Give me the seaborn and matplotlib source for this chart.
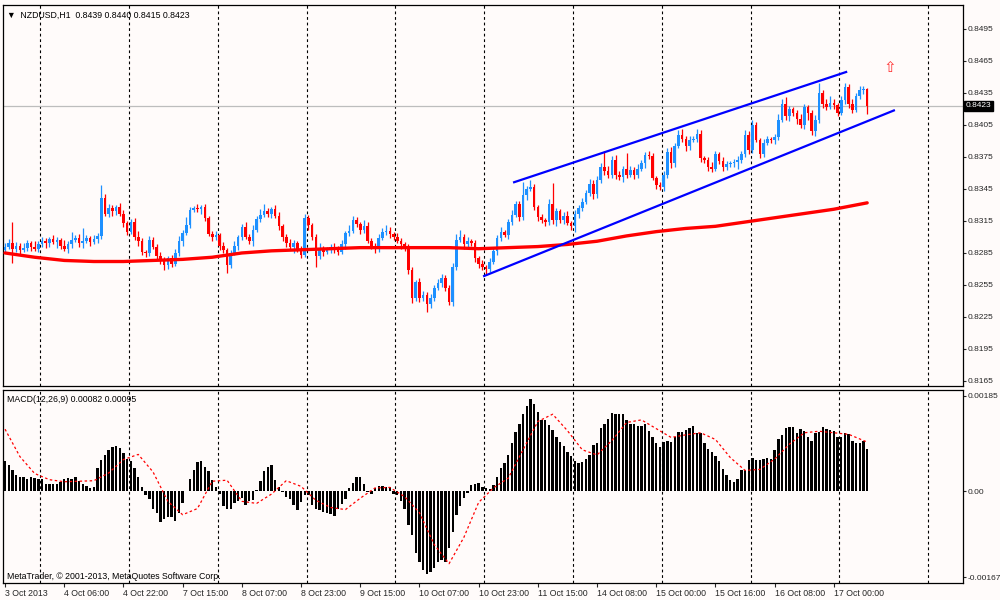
import numpy as np
import pandas as pd
import matplotlib
matplotlib.use("Agg")
import matplotlib.pyplot as plt
import matplotlib.transforms as mtransforms
import seaborn as sns

# ---------------- data (prices in pips = 1e-4) ----------------
first_open = 8288
close_pips = [
    8291, 8294, 8289, 8292, 8288, 8290, 8294, 8291, 8289, 8293, 8296, 8294, 8298, 8295, 8297, 8292,
    8289, 8293, 8297, 8299, 8294, 8296, 8299, 8295, 8298, 8301,
    8337, 8322, 8327, 8324, 8328, 8322, 8313, 8305,
    8314, 8300, 8296, 8286, 8285, 8297, 8291, 8282, 8278, 8274, 8280, 8275,
    8285, 8296, 8304, 8311, 8325, 8327, 8326, 8328, 8318, 8303, 8300, 8302, 8292, 8288,
    8274, 8285, 8292, 8300, 8309, 8300, 8296, 8307, 8317, 8321, 8324, 8322, 8326, 8320, 8310, 8300,
    8294, 8291, 8294, 8289, 8283,
    8318, 8311, 8300, 8282, 8290, 8286, 8288, 8291, 8289, 8286,
    8293, 8304, 8306, 8316, 8312, 8307, 8310, 8296, 8292, 8289,
    8299, 8305, 8306, 8303, 8300, 8296, 8293, 8290, 8269, 8243,
    8258, 8243, 8246, 8237, 8243, 8252, 8257, 8262, 8252, 8239,
    8272, 8297, 8300, 8293, 8296,
    8294, 8280, 8275, 8272, 8270, 8277, 8287, 8299, 8305, 8302,
    8314, 8321, 8331, 8319, 8339, 8345, 8347, 8328, 8319, 8316,
    8314, 8331, 8316, 8324, 8316, 8320, 8313, 8310, 8322, 8327,
    8333, 8341, 8350, 8340, 8353, 8366, 8362, 8358, 8372, 8358,
    8356, 8364, 8358, 8363, 8358, 8364, 8369, 8377, 8376, 8355,
    8349, 8347, 8358, 8380, 8369, 8385, 8396, 8392, 8385, 8391,
    8392, 8397, 8374, 8372, 8366, 8364, 8378, 8371,
    8366, 8368, 8369, 8370, 8372, 8378, 8396, 8382, 8405, 8391,
    8378, 8388, 8392, 8391, 8394, 8410, 8425, 8413, 8420, 8416,
    8411, 8405, 8422, 8416, 8399, 8410, 8435, 8425, 8422, 8426,
    8424, 8416, 8428, 8441, 8425, 8419, 8432, 8438, 8439, 8423,
]
upper_wick = [
    3, 4, 20, 3, 2, 4, 3, 2, 5, 3,
    4, 3, 2, 4, 3, 2, 5, 3, 8, 3,
    4, 12, 3, 2, 4, 3, 12, 3, 4, 3,
    2, 4, 3, 2, 3, 4, 6, 3, 2, 4,
    3, 2, 4, 3, 2, 3, 4, 5, 3, 8,
    3, 2, 4, 2, 3, 2, 3, 4, 2, 3,
    2, 3, 4, 2, 3, 5, 3, 4, 3, 5,
    7, 3, 2, 4, 3, 2, 3, 4, 3, 2,
    3, 4, 3, 2, 3, 4, 2, 3, 2, 3,
    3, 4, 2, 5, 4, 3, 2, 6, 4, 3,
    2, 4, 3, 5, 3, 2, 4, 3, 2, 3,
    3, 2, 4, 3, 2, 4, 3, 4, 3, 2,
    3, 4, 6, 7, 3, 4, 2, 3, 2, 3,
    2, 3, 4, 3, 4, 2, 3, 4, 3, 3,
    13, 3, 6, 3, 2, 3, 2, 5, 20, 3,
    2, 3, 4, 2, 3, 3, 4, 3, 4, 3,
    4, 3, 15, 5, 4, 5, 4, 3, 15, 4,
    3, 4, 3, 3, 4, 3, 2, 3, 4, 3,
    4, 3, 4, 5, 3, 4, 3, 4, 3, 2,
    3, 4, 3, 2, 4, 3, 2, 3, 4, 3,
    4, 3, 5, 3, 2, 4, 3, 2, 3, 5,
    4, 6, 3, 2, 3, 4, 3, 2, 3, 4,
    9, 3, 4, 6, 3, 2, 4, 3, 2, 4,
    3, 4, 3, 1,
]
lower_wick = [
    3, 2, 13, 3, 4, 2, 3, 4, 2, 3,
    2, 4, 3, 2, 5, 3, 2, 4, 3, 2,
    3, 4, 2, 3, 2, 4, 3, 2, 3, 4,
    3, 2, 4, 3, 2, 3, 4, 3, 4, 3,
    2, 4, 3, 5, 4, 3, 2, 3, 4, 2,
    3, 2, 3, 4, 3, 2, 4, 3, 4, 3,
    8, 3, 2, 4, 3, 2, 3, 4, 2, 3,
    2, 3, 4, 2, 3, 4, 3, 2, 6, 3,
    3, 2, 4, 3, 10, 3, 4, 2, 3, 4,
    3, 2, 4, 3, 2, 3, 4, 3, 2, 3,
    4, 3, 2, 3, 4, 3, 2, 4, 3, 4,
    5, 3, 4, 3, 7, 4, 3, 2, 4, 3,
    3, 4, 3, 2, 4, 3, 2, 3, 4, 3,
    5, 3, 2, 4, 3, 2, 4, 3, 2, 4,
    3, 4, 2, 3, 4, 3, 4, 3, 4, 6,
    3, 4, 2, 3, 5, 4, 3, 2, 3, 4,
    3, 2, 4, 3, 3, 4, 3, 4, 3, 2,
    4, 3, 2, 4, 3, 2, 4, 3, 4, 3,
    4, 3, 2, 3, 4, 3, 2, 3, 4, 3,
    4, 3, 2, 3, 4, 3, 2, 3, 6, 3,
    3, 4, 3, 2, 4, 3, 2, 3, 4, 3,
    2, 3, 4, 3, 5, 3, 4, 6, 3, 4,
    3, 4, 3, 2, 4, 3, 2, 3, 4, 3,
    2, 3, 4, 8,
]

# moving average (pips), read every 8 bars + last bar
ma_bars = list(range(0, 225, 8)) + [233]
ma_vals = [8285, 8281, 8278, 8277, 8277, 8278, 8279, 8281, 8285, 8287,
           8288, 8289, 8290, 8290, 8290, 8290, 8289, 8290, 8291, 8293,
           8296, 8301, 8305, 8308, 8310, 8314, 8318, 8322, 8326, 8332]

# MACD histogram (units of 1e-5)
macd_hist = [
    59, 50, 41, 32, 28, 28, 23, 27, 25, 23,
    23, 13, 13, 13, 13, 18, 23, 26, 23, 27,
    19, 13, 10, 6, 8, 44, 60, 70, 80, 86,
    87, 83, 73, 63, 59, 44, 28, 7, -8, -16,
    -34, -43, -61, -55, -51, -51, -58, -43, -24, 1,
    23, 41, 57, 58, 46, 38, 21, 8, -6, -30,
    -34, -34, -24, -19, -14, -27, -19, -17, 2, 19,
    38, 47, 50, 21, 7, -1, -11, -16, -27, -36,
    -21, -8, -8, -27, -34, -37, -40, -42, -45, -49,
    -34, -25, -16, 5, 16, 27, 27, 14, -1, -5,
    5, 10, 10, 7, 7, -5, -8, -19, -34, -66,
    -85, -121, -137, -153, -161, -157, -150, -137, -134, -137,
    -111, -79, -47, -30, -14, -3, 12, 13, 15, 8,
    5, 3, 12, 28,
    44, 54, 70, 94, 115, 130, 149, 165, 178, 169,
    154, 138, 137, 128, 118, 105, 96, 87, 76, 68,
    58, 55, 57, 62, 70, 89, 94, 122, 130, 139,
    151, 149, 149, 149, 138, 131, 130, 126, 127, 130,
    116, 104, 94, 86, 96, 98, 95, 105, 115, 115,
    118, 122, 126, 113, 113, 93, 81, 75, 68, 58,
    42, 31, 21, 18, 23, 41, 40, 60, 65, 60,
    61, 63, 65, 63, 80, 100, 109, 122, 125, 125,
    112, 120, 117, 104, 98, 113, 115, 124, 120, 118,
    117, 105, 105, 113, 111, 97, 94, 93, 97, 82,
]
# MACD signal line (units of 1e-5), read every 4 bars + last bar
signal_bars = list(range(0, 233, 4)) + [233]
signal_vals = [120, 67, 34, 22, 18, 19, 20, 35, 61, 71,
               37, -20, -46, -34, 19, 21, -20, -24, -6, 20,
               9, -18, -32, -36, -14, 6, 7, -11, -42, -104,
               -141, -90, -22, 6, 25, 80, 135, 149, 117, 80,
               70, 98, 133, 138, 121, 104, 109, 113, 100, 65,
               40, 42, 62, 91, 113, 116, 113, 110, 98, 95]

time_labels = ["3 Oct 2013", "4 Oct 06:00", "4 Oct 22:00", "7 Oct 15:00", "8 Oct 07:00",
               "8 Oct 23:00", "9 Oct 15:00", "10 Oct 07:00", "10 Oct 23:00", "11 Oct 15:00",
               "14 Oct 08:00", "15 Oct 00:00", "15 Oct 16:00", "16 Oct 08:00", "17 Oct 00:00"]
label_bars = list(range(0, 225, 16))
price_ticks = [0.8165, 0.8195, 0.8225, 0.8255, 0.8285, 0.8315, 0.8345,
               0.8375, 0.8405, 0.8435, 0.8465, 0.8495]
macd_ticks = [0.00185, 0.0, -0.00167]
macd_tick_labels = ["0.00185", "0.00", "-0.00167"]
last_price = 0.8423
channel_upper = [(137.3, 0.8351), (227.6, 0.8455)]
channel_lower = [(129.2, 0.8263), (240.5, 0.8419)]
arrow_pos = (239.2, 0.8459)

# ---------------- style ----------------
sns.set_style("white")
plt.rcParams["font.family"] = ["Liberation Sans", "DejaVu Sans"]
FS = 6.3
YFS = 6.0
bg = "#FFFBFA"
bull = "#1E90FF"
bear = "#FF0000"

n = len(close_pips)
idx = np.arange(n)
closes = np.array(close_pips) / 1e4
opens = np.array([first_open] + close_pips[:-1]) / 1e4
highs = np.maximum(opens, closes) + np.array(upper_wick[:n]) / 1e4
lows = np.minimum(opens, closes) - np.array(lower_wick[:n]) / 1e4
up = closes >= opens
colors = np.where(up, bull, bear)

fig = plt.figure(figsize=(10, 6), dpi=100, facecolor=bg)
ax1 = fig.add_axes([0.003, 0.3567, 0.960, 0.635])
ax2 = fig.add_axes([0.003, 0.0283, 0.960, 0.3217])
for ax in (ax1, ax2):
    ax.set_facecolor(bg)
    ax.set_xlim(-0.55, 258.9)
    for s in ax.spines.values():
        s.set_color("black")
        s.set_linewidth(0.9)
    for g in np.arange(9.5, 258, 24):
        ax.axvline(g, color="black", lw=0.8, ls=(0, (2.5, 2.5)), zorder=0.5)

# ---- main price panel ----
ax1.set_ylim(0.81603, 0.85175)
ax1.axhline(last_price, color="#BDBDBD", lw=0.9, zorder=1)
ax1.vlines(idx, lows, highs, colors=colors, lw=0.9, zorder=2)
body_h = np.maximum(np.abs(closes - opens), 0.00008)
ax1.bar(idx, body_h, bottom=np.minimum(opens, closes), width=0.72,
        color=colors, linewidth=0, zorder=3)

ma_df = pd.DataFrame({"bar": ma_bars, "ma": np.array(ma_vals) / 1e4})
sns.lineplot(data=ma_df, x="bar", y="ma", ax=ax1, color="#FF0000", lw=2.4, zorder=4)

for (x0, y0), (x1, y1) in [channel_upper, channel_lower]:
    ax1.plot([x0, x1], [y0, y1], color="#0000FF", lw=1.6, zorder=5,
             solid_capstyle="butt")

ax1.text(arrow_pos[0], arrow_pos[1], "\u21e7", color="#FF3030", fontsize=11,
         ha="center", va="center", family="DejaVu Sans", zorder=6)

ax1.set_yticks(price_ticks)
ax1.set_yticklabels([f"{p:.4f}" for p in price_ticks])
ax1.yaxis.tick_right()
ax1.tick_params(axis="y", direction="out", length=2, width=0.8, labelsize=YFS,
                pad=1, right=True, left=False, labelright=True, labelleft=False)
ax1.tick_params(axis="x", bottom=False, labelbottom=False)
ax1.set_xlabel("")
ax1.set_ylabel("")

trans1 = mtransforms.blended_transform_factory(ax1.transAxes, ax1.transData)
ax1.text(1.003, last_price, f"{last_price:.4f}", transform=trans1, color="white",
         fontsize=YFS, ha="left", va="center", zorder=10, clip_on=False,
         bbox=dict(boxstyle="square,pad=0.2", fc="black", ec="black"))

ax1.text(0.0045, 0.985, "\u25bc  NZDUSD,H1  0.8439 0.8440 0.8415 0.8423",
         transform=ax1.transAxes, fontsize=FS, ha="left", va="top", color="black")

# ---- MACD panel ----
ax2.set_ylim(-0.001785, 0.00196)
hist = np.array(macd_hist[:n]) / 1e5
ax2.bar(idx[:len(hist)], hist, width=0.66, color="black", linewidth=0, zorder=2)
sig_df = pd.DataFrame({"bar": signal_bars, "sig": np.array(signal_vals) / 1e5})
sns.lineplot(data=sig_df, x="bar", y="sig", ax=ax2, color="#FF0000", lw=0.9, zorder=3)
ax2.lines[-1].set_linestyle((0, (2, 2)))

ax2.set_yticks(macd_ticks)
ax2.set_yticklabels(macd_tick_labels)
ax2.yaxis.tick_right()
ax2.tick_params(axis="y", direction="out", length=2, width=0.8, labelsize=YFS,
                pad=1, right=True, left=False, labelright=True, labelleft=False)
ax2.set_xticks(label_bars)
ax2.set_xticklabels(time_labels)
ax2.tick_params(axis="x", direction="out", length=3, width=0.8, labelsize=FS,
                pad=1.5, bottom=True)
for lab in ax2.get_xticklabels():
    lab.set_ha("left")
ax2.set_xlabel("")
ax2.set_ylabel("")

ax2.text(0.0045, 0.975, "MACD(12,26,9) 0.00082 0.00095", transform=ax2.transAxes,
         fontsize=FS, ha="left", va="top", color="black")
ax2.text(0.0045, 0.012, "MetaTrader, \u00a9 2001-2013, MetaQuotes Software Corp.",
         transform=ax2.transAxes, fontsize=FS, ha="left", va="bottom", color="black")

fig.savefig("out.png", dpi=100, facecolor=bg)
